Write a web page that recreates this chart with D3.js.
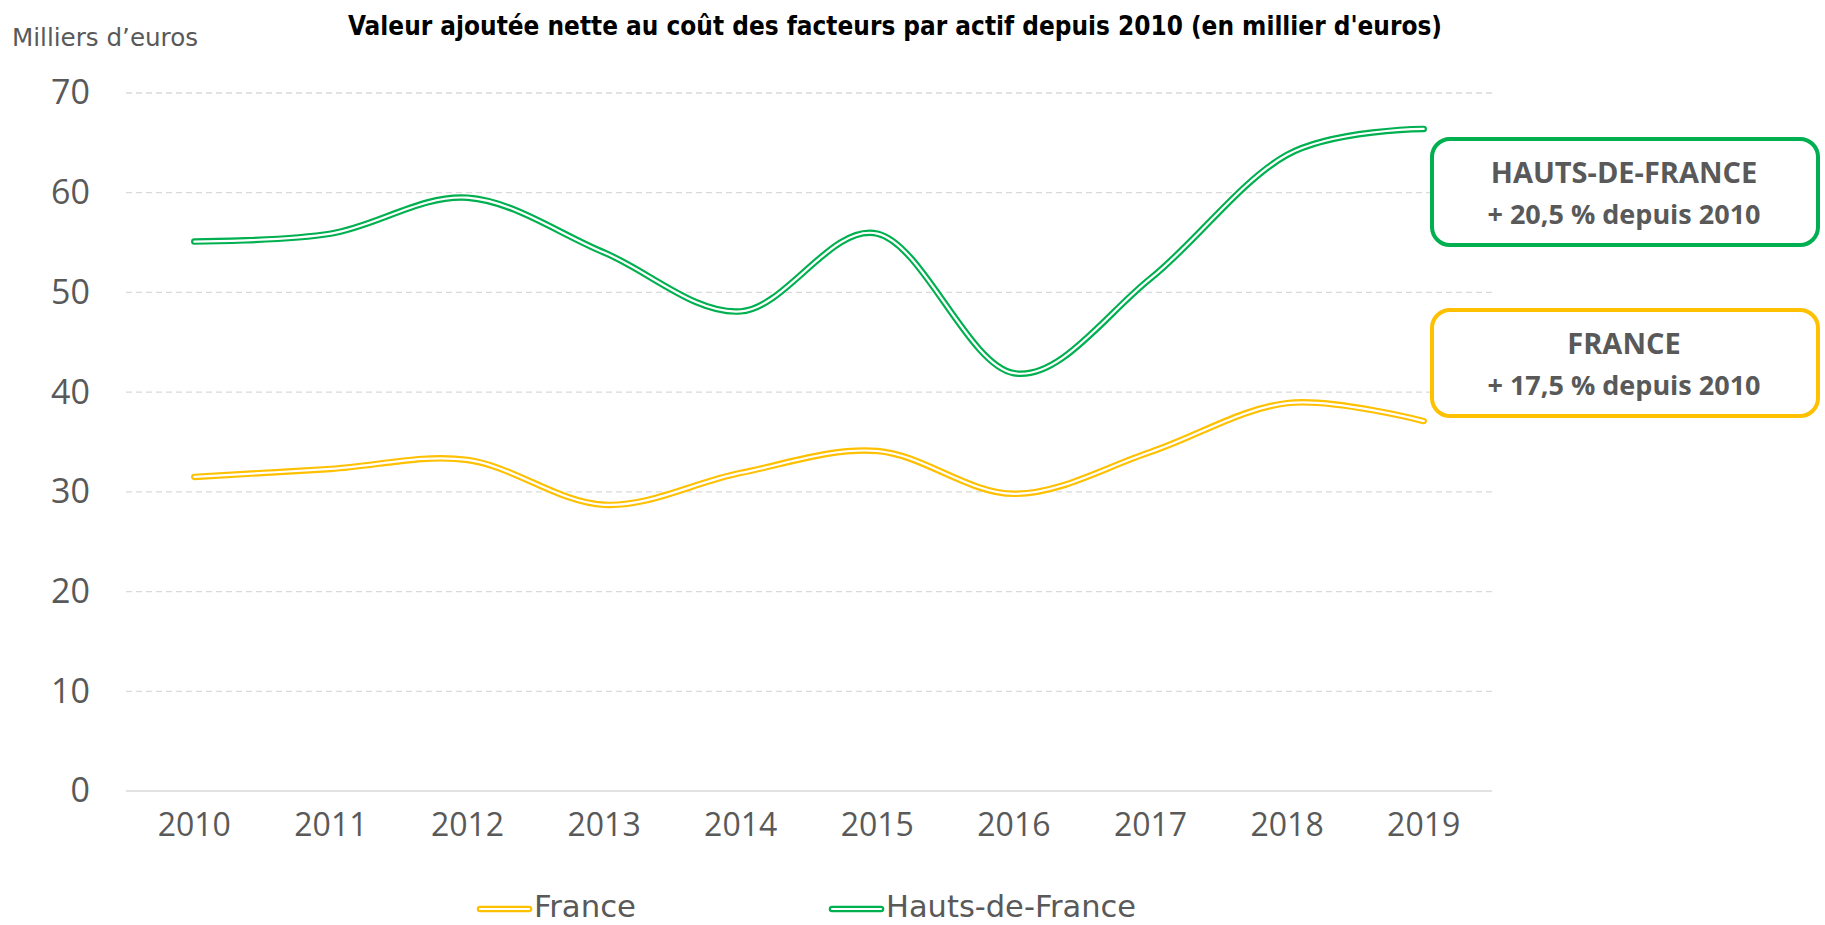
<!DOCTYPE html>
<html>
<head>
<meta charset="utf-8">
<script src="https://cdn.jsdelivr.net/npm/d3@7"></script>
<style>
  html, body { margin: 0; padding: 0; background: #fff; }
  svg { display: block; }
</style>
</head>
<body>
<script>
const years = [2010, 2011, 2012, 2013, 2014, 2015, 2016, 2017, 2018, 2019];
const france = [31.5, 32.3, 33.2, 28.7, 31.9, 34.1, 29.8, 34.0, 38.9, 37.1];
const hautsDeFrance = [55.1, 55.9, 59.5, 54.0, 48.1, 55.9, 41.9, 51.4, 63.8, 66.4];
const yTicks = [0, 10, 20, 30, 40, 50, 60, 70];
const seriesNames = ['France', 'Hauts-de-France'];
const boxTitles = ['HAUTS-DE-FRANCE', 'FRANCE'];
const boxSubtitles = ['+ 20,5 % depuis 2010', '+ 17,5 % depuis 2010'];

const width = 1825, height = 925;
const margin = { top: 93, right: 333, bottom: 134, left: 126 };
const grey = '#595959';
const green = '#00b050', yellow = '#ffc000';
const font = '"Open Sans", "Noto Sans", sans-serif';
const narrow = '"Liberation Sans Narrow", "DejaVu Sans Condensed", sans-serif';

const svg = d3.select('body').append('svg')
  .attr('width', width)
  .attr('height', height);

const x = d3.scaleBand()
  .domain(years)
  .range([margin.left, width - margin.right]);

const y = d3.scaleLinear()
  .domain([0, 70])
  .range([height - margin.bottom, margin.top]);

// grid
svg.append('g')
  .selectAll('line')
  .data(yTicks)
  .join('line')
  .attr('x1', margin.left)
  .attr('x2', width - margin.right)
  .attr('y1', d => y(d))
  .attr('y2', d => y(d))
  .attr('stroke', '#d9d9d9')
  .attr('stroke-width', d => d === 0 ? 1.6 : 1.3)
  .attr('stroke-dasharray', d => d === 0 ? null : '6,4');

// y axis
const yAxis = svg.append('g')
  .attr('transform', `translate(${margin.left},0)`)
  .call(d3.axisLeft(y).tickValues(yTicks).tickSize(0).tickPadding(36));
yAxis.select('.domain').remove();
yAxis.selectAll('text')
  .attr('fill', grey)
  .style('font-family', font)
  .style('font-size', '34px');

// x axis
const xAxis = svg.append('g')
  .attr('transform', `translate(0,${height - margin.bottom})`)
  .call(d3.axisBottom(x).tickSize(0).tickPadding(22));
xAxis.select('.domain').remove();
xAxis.selectAll('text')
  .attr('fill', grey)
  .style('font-family', font)
  .style('font-size', '32px');

const line = d3.line()
  .x((d, i) => x(years[i]) + x.bandwidth() / 2)
  .y(d => y(d))
  .curve(d3.curveCardinal.tension(0));

function doubleLine(g, data, color) {
  g.append('path')
    .attr('d', line(data))
    .attr('fill', 'none')
    .attr('stroke', color)
    .attr('stroke-width', 6.5)
    .attr('stroke-linecap', 'round');
  g.append('path')
    .attr('d', line(data))
    .attr('fill', 'none')
    .attr('stroke', '#fff')
    .attr('stroke-width', 2.2)
    .attr('stroke-linecap', 'round');
}

doubleLine(svg.append('g'), france, yellow);
doubleLine(svg.append('g'), hautsDeFrance, green);

// title
svg.append('text')
  .attr('x', 895)
  .attr('y', 35)
  .attr('text-anchor', 'middle')
  .attr('textLength', 1094)
  .attr('lengthAdjust', 'spacingAndGlyphs')
  .style('font-family', narrow)
  .style('font-weight', 'bold')
  .style('font-size', '27px')
  .attr('fill', '#000')
  .text("Valeur ajoutée nette au coût des facteurs par actif depuis 2010  (en millier d'euros)");

svg.append('text')
  .attr('x', 12)
  .attr('y', 46)
  .attr('textLength', 186)
  .attr('lengthAdjust', 'spacingAndGlyphs')
  .style('font-family', narrow)
  .style('font-size', '24px')
  .attr('fill', grey)
  .text('Milliers d’euros');

// annotation boxes
const boxes = [
  { top: 139, color: green },
  { top: 310, color: yellow }
];
boxes.forEach((b, i) => {
  const g = svg.append('g');
  g.append('rect')
    .attr('x', 1432)
    .attr('y', b.top)
    .attr('width', 386)
    .attr('height', 106)
    .attr('rx', 18)
    .attr('fill', '#fff')
    .attr('stroke', b.color)
    .attr('stroke-width', 4);
  g.append('text')
    .attr('x', 1624)
    .attr('y', b.top + 44)
    .attr('text-anchor', 'middle')
    .style('font-family', font)
    .style('font-weight', 'bold')
    .style('font-size', '29px')
    .attr('fill', grey)
    .text(boxTitles[i]);
  g.append('text')
    .attr('x', 1624)
    .attr('y', b.top + 85)
    .attr('text-anchor', 'middle')
    .style('font-family', font)
    .style('font-weight', 'bold')
    .style('font-size', '27px')
    .attr('fill', grey)
    .text(boxSubtitles[i]);
});

// legend
const legendX = [477, 829];
const legendColors = [yellow, green];
seriesNames.forEach((name, i) => {
  const g = svg.append('g').attr('transform', `translate(${legendX[i]},909)`);
  g.append('line').attr('x1', 3).attr('x2', 52).attr('y1', 0).attr('y2', 0)
    .attr('stroke', legendColors[i]).attr('stroke-width', 6.5).attr('stroke-linecap', 'round');
  g.append('line').attr('x1', 3).attr('x2', 52).attr('y1', 0).attr('y2', 0)
    .attr('stroke', '#fff').attr('stroke-width', 2.2).attr('stroke-linecap', 'round');
  g.append('text')
    .attr('x', 57)
    .attr('y', 8)
    .attr('textLength', i === 0 ? 102 : 250)
    .attr('lengthAdjust', 'spacingAndGlyphs')
    .style('font-family', narrow)
    .style('font-size', '30px')
    .attr('fill', grey)
    .text(name);
});
</script>
</body>
</html>
